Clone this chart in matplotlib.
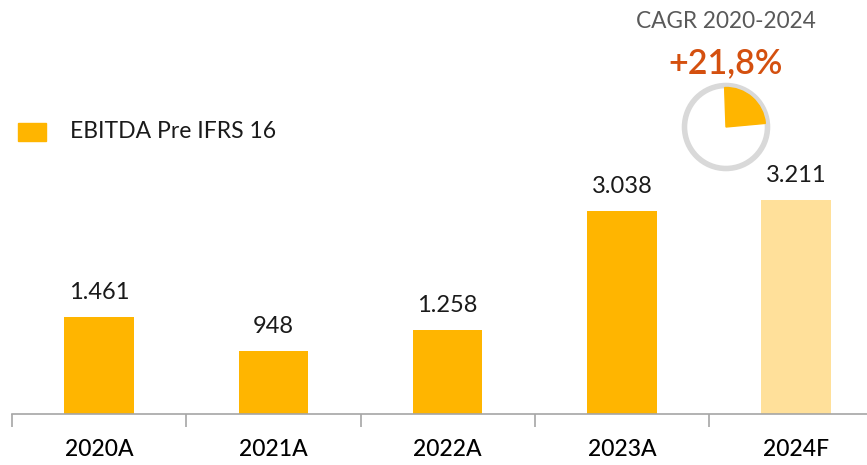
import matplotlib
matplotlib.use("Agg")
import matplotlib.pyplot as plt
from matplotlib.patches import Wedge, Circle
import numpy as np

categories = ["2020A", "2021A", "2022A", "2023A", "2024F"]
values = [1461, 948, 1258, 3038, 3211]
value_labels = ["1.461", "948", "1.258", "3.038", "3.211"]
forecast = [False, False, False, False, True]
legend_label = "EBITDA Pre IFRS 16"
cagr_title = "CAGR 2020-2024"
cagr_label = "+21,8%"
cagr_value = 0.218

plt.rcParams['font.family'] = ['Lato', 'DejaVu Sans']

W, H = 867, 465
fig = plt.figure(figsize=(W / 100, H / 100), dpi=100)

# main axes (pixel placement)
left_px, base_px = 12, 414
ax = fig.add_axes([left_px / W, (H - base_px) / H, (W - left_px) / W, base_px / H])
spacing = 174.25
xmax = -0.5 + (W - left_px) / spacing
ax.set_xlim(-0.5, xmax)
px_per_unit = 0.0667
ax.set_ylim(0, base_px / px_per_unit)

x = np.arange(len(categories))
colors = ["#FFE09A" if f else "#FFB500" for f in forecast]
ax.bar(x, values, width=0.40, color=colors, zorder=2)

for xi, v, lab in zip(x, values, value_labels):
    ax.annotate(lab, (xi, v), xytext=(0, 10), textcoords="offset points",
                ha="center", va="bottom", fontsize=17, color="#1a1a1a")

for s in ["top", "right", "left"]:
    ax.spines[s].set_visible(False)
ax.spines["bottom"].set_color("#A6A6A6")
ax.spines["bottom"].set_linewidth(1.2)
ax.set_yticks([])
ax.set_xticks(np.arange(-0.5, xmax, 1.0), minor=False)
ax.set_xticklabels([])
ax.tick_params(axis="x", which="major", length=9, color="#A6A6A6", width=1.2)
ax.set_xticks(x, minor=True)
ax.set_xticklabels(categories, minor=True, fontsize=16.5, color="#000000", fontweight="medium")
ax.tick_params(axis="x", which="minor", length=0, pad=18)

# legend
fig.patches.append(plt.Rectangle((18 / W, (H - 141) / H), 28 / W, 18 / H,
                                 transform=fig.transFigure, color="#FFB500"))
fig.text(70 / W, (H - 132) / H, legend_label, fontsize=16.5, va="center", ha="left", color="#1a1a1a")

# CAGR
fig.text(726 / W, (H - 22) / H, cagr_title, fontsize=16.3, ha="center", va="center", color="#595959")
fig.text(726 / W, (H - 63) / H, cagr_label, fontsize=24.5, fontweight="semibold",
         ha="center", va="center", color="#D4500F")

cx, cy = 726, H - 127
axp = fig.add_axes([(cx - 50) / W, (cy - 50) / H, 100 / W, 100 / H])
axp.set_xlim(-50, 50)
axp.set_ylim(-50, 50)
axp.set_aspect("equal")
axp.axis("off")
axp.add_patch(Circle((0, 0), 41.5, fill=False, ec="#D9D9D9", lw=4))
axp.add_patch(Wedge((0, 0), 39.5, 90 - 360 * cagr_value * 1.08, 92, color="#FFB500"))

fig.savefig("out.png", dpi=100)
